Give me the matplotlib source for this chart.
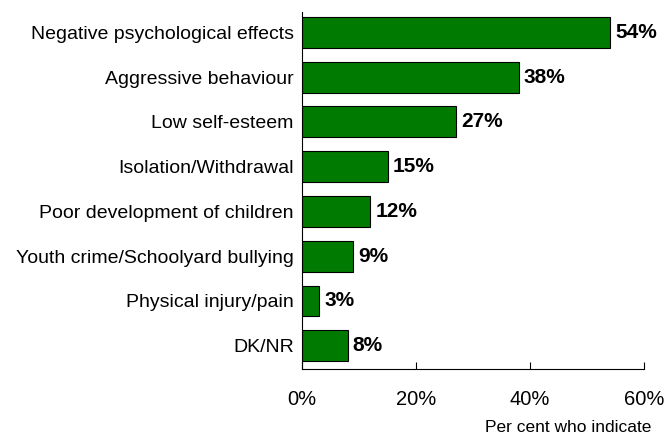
import matplotlib
matplotlib.use("Agg")
import matplotlib.pyplot as plt

plt.rcParams['font.family'] = ['Liberation Sans', 'DejaVu Sans']

# dados
categories = [
    "Negative psychological effects",
    "Aggressive behaviour",
    "Low self-esteem",
    "Isolation/Withdrawal",
    "Poor development of children",
    "Youth crime/Schoolyard bullying",
    "Physical injury/pain",
    "DK/NR",
]
values = [54, 38, 27, 15, 12, 9, 3, 8]
xticks = [0, 20, 40, 60]
xtick_labels = ["0%", "20%", "40%", "60%"]

fig = plt.figure(figsize=(6.67, 4.38), dpi=100)
ax = fig.add_axes([0.4528, 0.1575, 0.5127, 0.8145])

pos = list(range(len(categories)))
ax.barh(pos, values, height=0.69, color="#007a00", edgecolor="black", linewidth=0.8)

for p, v in zip(pos, values):
    ax.text(v + 0.9, p, f"{v}%", va="center", ha="left", fontsize=15, fontweight="bold")

ax.set_xlim(0, 60)
ax.set_ylim(7.52, -0.45)
ax.set_yticks(pos)
ax.set_yticklabels(categories, fontsize=14)
ax.set_xticks(xticks)
ax.set_xticklabels(xtick_labels, fontsize=14.5)

ax.spines["top"].set_visible(False)
ax.spines["right"].set_visible(False)
ax.tick_params(axis="y", length=0, pad=6)
ax.tick_params(axis="x", direction="in", length=5, pad=15)

fig.text(0.977, 0.025, "Per cent who indicate", ha="right", va="center", fontsize=12.5)

fig.savefig("out.png", dpi=100)
